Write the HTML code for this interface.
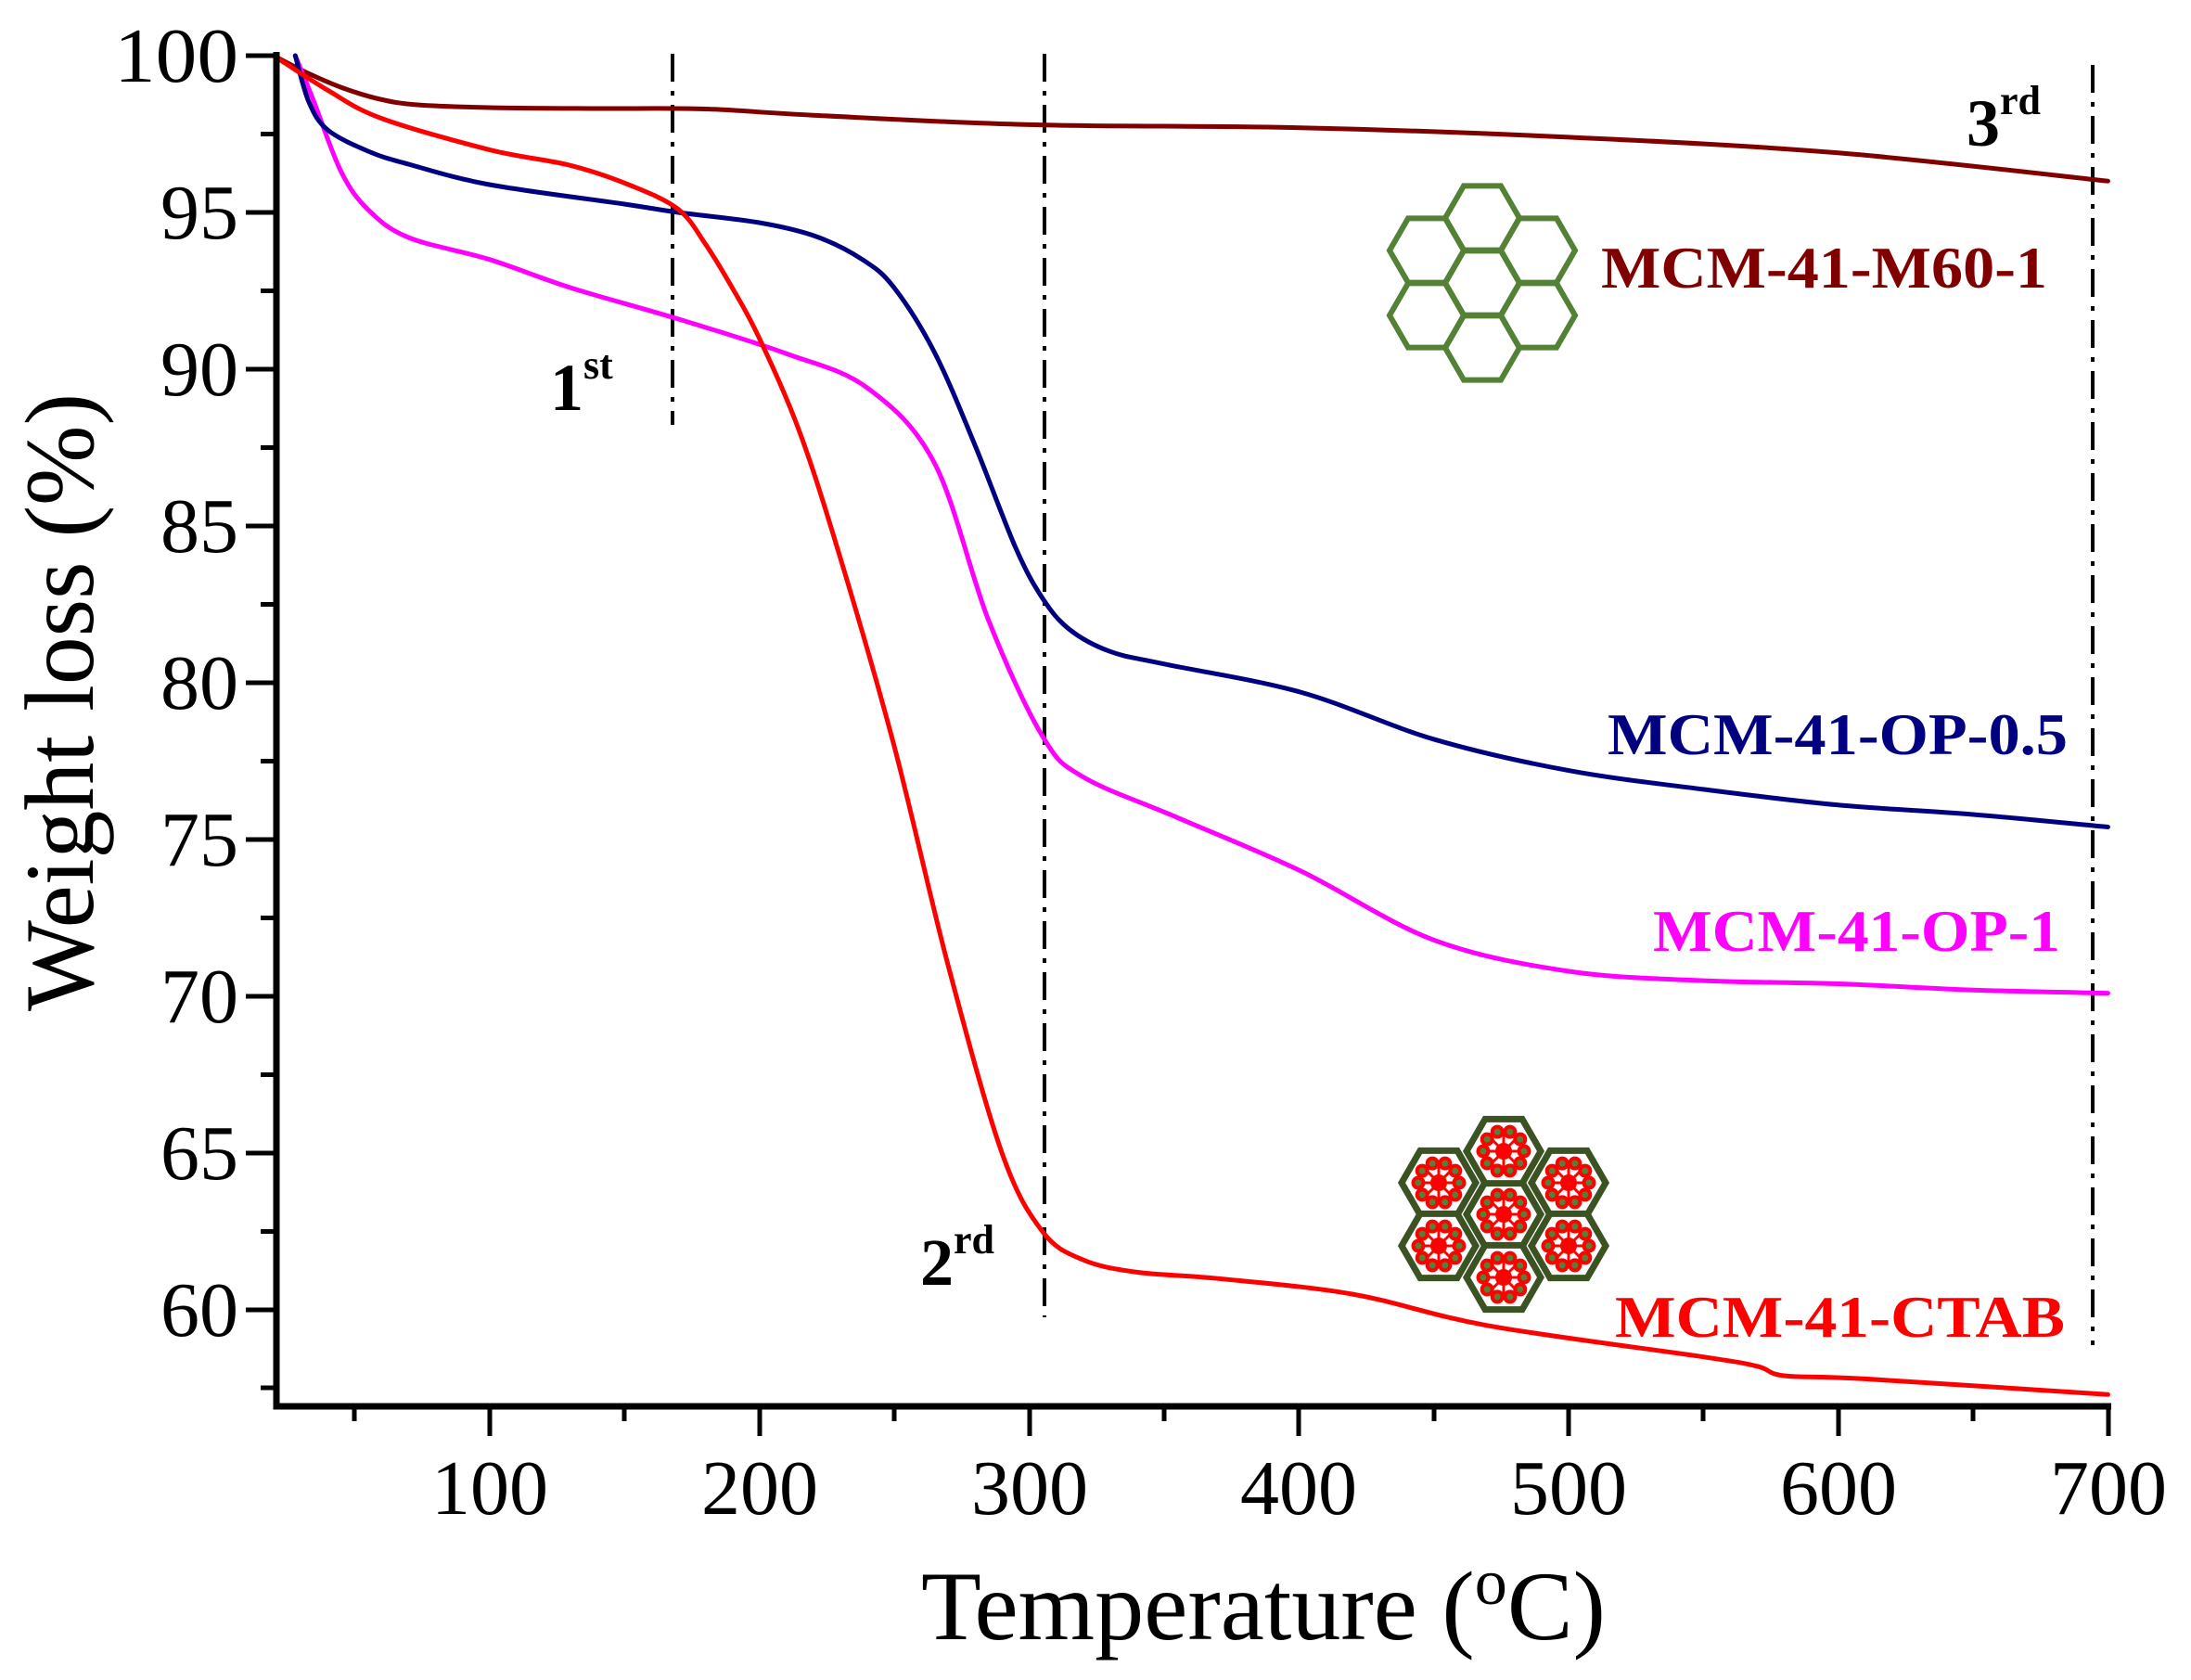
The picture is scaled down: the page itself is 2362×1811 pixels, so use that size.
<!DOCTYPE html>
<html><head><meta charset="utf-8"><style>html,body{margin:0;padding:0;background:#fff}svg{display:block}</style></head><body>
<svg id="chart" width="2362" height="1811" viewBox="0 0 2362 1811" xmlns="http://www.w3.org/2000/svg">
<defs>
<polygon id="hx" points="40,0 20,34.64 -20,34.64 -40,0 -20,-34.64 20,-34.64"/>
<g id="cell">
<g fill="#ff0000">
<circle cx="22" cy="0" r="7.5"/><circle cx="17.8" cy="12.9" r="7.5"/><circle cx="6.8" cy="20.9" r="7.5"/><circle cx="-6.8" cy="20.9" r="7.5"/><circle cx="-17.8" cy="12.9" r="7.5"/><circle cx="-22" cy="0" r="7.5"/><circle cx="-17.8" cy="-12.9" r="7.5"/><circle cx="-6.8" cy="-20.9" r="7.5"/><circle cx="6.8" cy="-20.9" r="7.5"/><circle cx="17.8" cy="-12.9" r="7.5"/>
<circle cx="0" cy="0" r="9"/>
</g>
<g stroke="#ff0000" stroke-width="3"><line x1="-20" y1="0" x2="20" y2="0"/><line x1="0" y1="-20" x2="0" y2="20"/><line x1="-14" y1="-14" x2="14" y2="14"/><line x1="-14" y1="14" x2="14" y2="-14"/></g>
<g fill="#538135">
<circle cx="22" cy="0" r="3.5"/><circle cx="17.8" cy="12.9" r="3.5"/><circle cx="6.8" cy="20.9" r="3.5"/><circle cx="-6.8" cy="20.9" r="3.5"/><circle cx="-17.8" cy="12.9" r="3.5"/><circle cx="-22" cy="0" r="3.5"/><circle cx="-17.8" cy="-12.9" r="3.5"/><circle cx="-6.8" cy="-20.9" r="3.5"/><circle cx="6.8" cy="-20.9" r="3.5"/><circle cx="17.8" cy="-12.9" r="3.5"/>
</g>
</g>
</defs>

<g stroke="#000" stroke-width="4" fill="none" stroke-dasharray="30,10,5,10">
<line x1="725" y1="58" x2="725" y2="458"/>
<line x1="1126" y1="58" x2="1126" y2="1420"/>
<line x1="2256" y1="70" x2="2256" y2="1450"/>
</g>

<g fill="none" stroke-width="5" stroke-linejoin="round" stroke-linecap="round">
<polyline class="sm" stroke="#800000" points="295,60 330,78 370,95 410,107 450,113 527.6,116 640,117 760.3,117.5 876.6,124.2 1109.2,134.4 1402,137.7 1691,147.9 1981.6,164.8 2272.4,195.2"/>
<polyline class="sm" stroke="#ff00ff" points="318.3,60 338.6,110 367.7,185 396.8,226 440.4,256 527.6,279.7 614.9,310.1 731.2,343.9 847.5,381.1 934.8,418 1007.5,499.4 1065.6,668.4 1123.8,793.5 1167.4,837.4 1269.2,881.3 1402,938.8 1545.4,1013.2 1691,1047 1836.2,1057.1 1981.6,1060.5 2127,1067.2 2272.4,1070.6"/>
<polyline class="sm" stroke="#000080" points="318.3,60 333,110 353.2,140 396.8,163 440.4,177 527.6,199 673,220 731.2,229 818.4,240 880,255 930,280 963.8,310 1007.5,380 1051.1,480 1094.7,590 1123.8,644.7 1152.9,678.5 1196.5,702.2 1254.6,715.7 1402,746.1 1545.4,796.8 1691,830.6 1836.2,850.9 1981.6,867.8 2127,878 2272.4,891.5"/>
<polyline class="sm" stroke="#ff0000" points="295,60 353.2,97.2 411.3,127.6 527.6,161.4 614.9,178.3 680,200 731.2,225.6 760.3,262.8 789.3,310.1 818.4,364.2 862,465.6 905.7,600.8 963.8,803.6 1022,1040.2 1080.2,1243 1123.8,1327.5 1167.4,1358 1225.6,1371.4 1312.8,1378.2 1458.2,1395.1 1603.6,1428.9 1836.2,1462.7 1894.4,1472.8 1923.5,1483 2010.7,1486.4 2272.4,1503.3"/>
</g>

<g stroke="#000" stroke-width="7" fill="none">
<polyline points="298,56 298,1516 2276,1516"/>
</g>
<g stroke="#000" stroke-width="5">
<line x1="265" y1="60" x2="298" y2="60"/><line x1="265" y1="229" x2="298" y2="229"/><line x1="265" y1="398" x2="298" y2="398"/><line x1="265" y1="567" x2="298" y2="567"/><line x1="265" y1="736" x2="298" y2="736"/><line x1="265" y1="905" x2="298" y2="905"/><line x1="265" y1="1074" x2="298" y2="1074"/><line x1="265" y1="1243" x2="298" y2="1243"/><line x1="265" y1="1412" x2="298" y2="1412"/>
<line x1="281" y1="144.5" x2="298" y2="144.5"/><line x1="281" y1="313.5" x2="298" y2="313.5"/><line x1="281" y1="482.5" x2="298" y2="482.5"/><line x1="281" y1="651.5" x2="298" y2="651.5"/><line x1="281" y1="820.5" x2="298" y2="820.5"/><line x1="281" y1="989.5" x2="298" y2="989.5"/><line x1="281" y1="1158.5" x2="298" y2="1158.5"/><line x1="281" y1="1327.5" x2="298" y2="1327.5"/><line x1="281" y1="1496" x2="298" y2="1496"/>
<line x1="528" y1="1516" x2="528" y2="1548"/><line x1="819" y1="1516" x2="819" y2="1548"/><line x1="1110" y1="1516" x2="1110" y2="1548"/><line x1="1400" y1="1516" x2="1400" y2="1548"/><line x1="1691" y1="1516" x2="1691" y2="1548"/><line x1="1982" y1="1516" x2="1982" y2="1548"/><line x1="2273" y1="1516" x2="2273" y2="1548"/>
<line x1="382" y1="1516" x2="382" y2="1532"/><line x1="673" y1="1516" x2="673" y2="1532"/><line x1="964" y1="1516" x2="964" y2="1532"/><line x1="1255" y1="1516" x2="1255" y2="1532"/><line x1="1546" y1="1516" x2="1546" y2="1532"/><line x1="1836" y1="1516" x2="1836" y2="1532"/><line x1="2127" y1="1516" x2="2127" y2="1532"/>
</g>

<g font-family="Liberation Serif, serif" font-size="84" fill="#000">
<g text-anchor="end">
<text x="257" y="88" textLength="134" lengthAdjust="spacingAndGlyphs">100</text>
<text x="257" y="257">95</text><text x="257" y="426">90</text><text x="257" y="595">85</text><text x="257" y="764">80</text><text x="257" y="933">75</text><text x="257" y="1102">70</text><text x="257" y="1271">65</text><text x="257" y="1440">60</text>
</g>
<g text-anchor="middle">
<text x="528" y="1632">100</text><text x="819" y="1632">200</text><text x="1110" y="1632">300</text><text x="1400" y="1632">400</text><text x="1691" y="1632">500</text><text x="1982" y="1632">600</text><text x="2273" y="1632">700</text>
</g>
</g>

<text x="993" y="1767" font-family="Liberation Serif, serif" font-size="106" textLength="738" lengthAdjust="spacingAndGlyphs">Temperature (<tspan font-size="70" dy="-38">o</tspan><tspan dy="38">C)</tspan></text>
<text transform="translate(100,1090) rotate(-90)" x="0" y="0" font-family="Liberation Serif, serif" font-size="106" textLength="666" lengthAdjust="spacingAndGlyphs">Weight loss (%)</text>

<g font-family="Liberation Serif, serif" font-weight="bold" fill="#000" font-size="72">
<text x="593" y="442">1<tspan font-size="44" dy="-34">st</tspan></text>
<text x="992" y="1385">2<tspan font-size="44" dy="-34">rd</tspan></text>
<text x="2120" y="157">3<tspan font-size="44" dy="-34">rd</tspan></text>
</g>
<g font-family="Liberation Serif, serif" font-weight="bold" font-size="64">
<text x="1726" y="310" fill="#800000" textLength="481" lengthAdjust="spacingAndGlyphs">MCM-41-M60-1</text>
<text x="1733" y="813" fill="#000080" textLength="496" lengthAdjust="spacingAndGlyphs">MCM-41-OP-0.5</text>
<text x="1782" y="1025" fill="#ff00ff" textLength="439" lengthAdjust="spacingAndGlyphs">MCM-41-OP-1</text>
<text x="1741" y="1441" fill="#ff0000" textLength="485" lengthAdjust="spacingAndGlyphs">MCM-41-CTAB</text>
</g>

<g fill="none" stroke="#538135" stroke-width="6" transform="translate(1598,305)">
<use href="#hx"/><use href="#hx" x="0" y="-70"/><use href="#hx" x="0" y="70"/>
<use href="#hx" x="-60" y="-35"/><use href="#hx" x="-60" y="35"/><use href="#hx" x="60" y="-35"/><use href="#hx" x="60" y="35"/>
</g>

<g transform="translate(1621,1309)">
<g fill="#fff" stroke="#3b5323" stroke-width="7">
<use href="#hx"/><use href="#hx" x="0" y="-68"/><use href="#hx" x="0" y="68"/>
<use href="#hx" x="-70" y="-34"/><use href="#hx" x="-70" y="34"/><use href="#hx" x="70" y="-34"/><use href="#hx" x="70" y="34"/>
</g>
<use href="#cell"/><use href="#cell" x="0" y="-68"/><use href="#cell" x="0" y="68"/>
<use href="#cell" x="-70" y="-34"/><use href="#cell" x="-70" y="34"/><use href="#cell" x="70" y="-34"/><use href="#cell" x="70" y="34"/>
</g>
</svg>
<script>
(function(){
var ns="http://www.w3.org/2000/svg";
document.querySelectorAll("polyline.sm").forEach(function(pl){
var p=pl.getAttribute("points").trim().split(/\s+/).map(function(s){var a=s.split(",");return [+a[0],+a[1]];});
var d="M"+p[0][0]+","+p[0][1];
for(var i=0;i<p.length-1;i++){
var p0=p[i>0?i-1:i],p1=p[i],p2=p[i+1],p3=p[i+2<p.length?i+2:i+1];
var c1x=p1[0]+(p2[0]-p0[0])/6,c1y=p1[1]+(p2[1]-p0[1])/6;
var c2x=p2[0]-(p3[0]-p1[0])/6,c2y=p2[1]-(p3[1]-p1[1])/6;
d+=" C"+c1x.toFixed(1)+","+c1y.toFixed(1)+" "+c2x.toFixed(1)+","+c2y.toFixed(1)+" "+p2[0]+","+p2[1];
}
var path=document.createElementNS(ns,"path");
path.setAttribute("d",d);path.setAttribute("stroke",pl.getAttribute("stroke"));
pl.parentNode.replaceChild(path,pl);
});
})();
</script>
</body></html>
